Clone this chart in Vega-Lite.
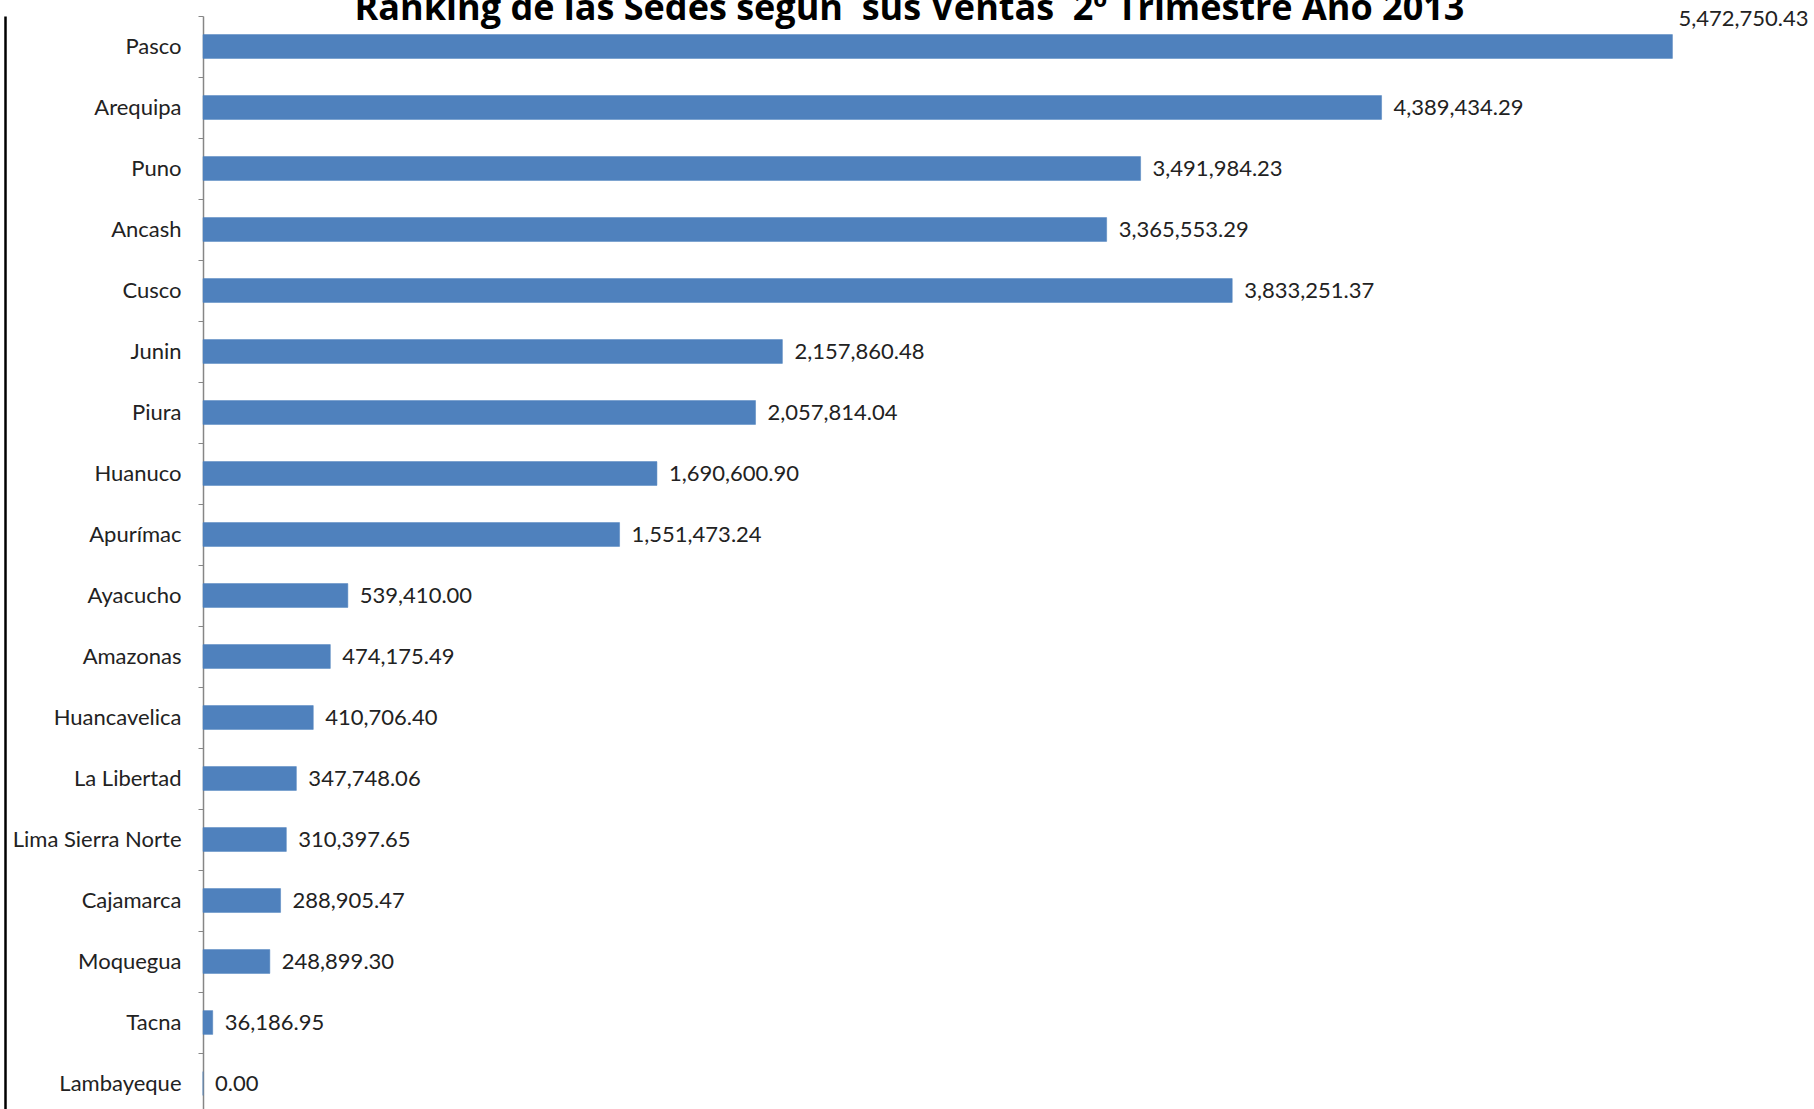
{
  "$schema": "https://vega.github.io/schema/vega-lite/v6.json",
  "autosize": "none",
  "padding": {"left": 203, "top": 16, "right": 0, "bottom": 0},
  "width": 1611,
  "height": 1098,
  "background": "white",
  "config": {"view": {"stroke": null}, "font": "Lato"},
  "title": {
    "text": "Ranking de las Sedes según \u00a0sus Ventas \u00a02º Trimestre Año 2013",
    "font": "Open Sans",
    "fontSize": 36,
    "fontWeight": "bold",
    "color": "#000000",
    "anchor": "middle",
    "baseline": "alphabetic",
    "offset": 0,
    "dx": -99,
    "dy": 51
  },
  "data": {
    "values": [
      {"sede": "Pasco", "ventas": 5472750.43},
      {"sede": "Arequipa", "ventas": 4389434.29},
      {"sede": "Puno", "ventas": 3491984.23},
      {"sede": "Ancash", "ventas": 3365553.29},
      {"sede": "Cusco", "ventas": 3833251.37},
      {"sede": "Junin", "ventas": 2157860.48},
      {"sede": "Piura", "ventas": 2057814.04},
      {"sede": "Huanuco", "ventas": 1690600.90},
      {"sede": "Apurímac", "ventas": 1551473.24},
      {"sede": "Ayacucho", "ventas": 539410.00},
      {"sede": "Amazonas", "ventas": 474175.49},
      {"sede": "Huancavelica", "ventas": 410706.40},
      {"sede": "La Libertad", "ventas": 347748.06},
      {"sede": "Lima Sierra Norte", "ventas": 310397.65},
      {"sede": "Cajamarca", "ventas": 288905.47},
      {"sede": "Moquegua", "ventas": 248899.30},
      {"sede": "Tacna", "ventas": 36186.95},
      {"sede": "Lambayeque", "ventas": 0.00}
    ]
  },
  "resolve": {"axis": {"y": "independent"}},
  "layer": [
    {
      "mark": {"type": "bar", "color": "#4F81BD", "stroke": "#4F81BD", "strokeWidth": 0.5, "height": {"band": 0.39}},
      "encoding": {
        "y": {
          "field": "sede", "type": "nominal", "sort": null,
          "scale": {"paddingInner": 0, "paddingOuter": 0},
          "axis": {
            "title": null, "orient": "left",
            "domainColor": "#868686", "domainWidth": 1.5,
            "tickColor": "#868686", "tickSize": 5, "tickBand": "extent",
            "labelFont": "Lato", "labelFontSize": 22, "labelColor": "#222222",
            "labelPadding": 17, "grid": false
          }
        },
        "x": {
          "field": "ventas", "type": "quantitative",
          "scale": {"domain": [0, 6000000], "nice": false},
          "axis": null
        }
      }
    },
    {
      "transform": [{"filter": "datum.sede !== 'Pasco'"}],
      "mark": {"type": "text", "align": "left", "baseline": "middle", "dx": 12, "fontSize": 22, "font": "Lato", "color": "#222222"},
      "encoding": {
        "y": {
          "field": "sede", "type": "nominal", "sort": null,
          "axis": {
            "title": null, "orient": "left", "offset": 198,
            "domainColor": "#000000", "domainWidth": 2.5,
            "labels": false, "ticks": false, "grid": false
          }
        },
        "x": {"field": "ventas", "type": "quantitative"},
        "text": {"field": "ventas", "type": "quantitative", "format": ",.2f"}
      }
    },
    {
      "transform": [{"filter": "datum.sede === 'Pasco'"}],
      "mark": {"type": "text", "align": "left", "baseline": "middle", "dx": 6, "dy": -28, "fontSize": 22, "font": "Lato", "color": "#222222"},
      "encoding": {
        "y": {"field": "sede", "type": "nominal", "sort": null, "axis": null},
        "x": {"field": "ventas", "type": "quantitative"},
        "text": {"field": "ventas", "type": "quantitative", "format": ",.2f"}
      }
    }
  ]
}
